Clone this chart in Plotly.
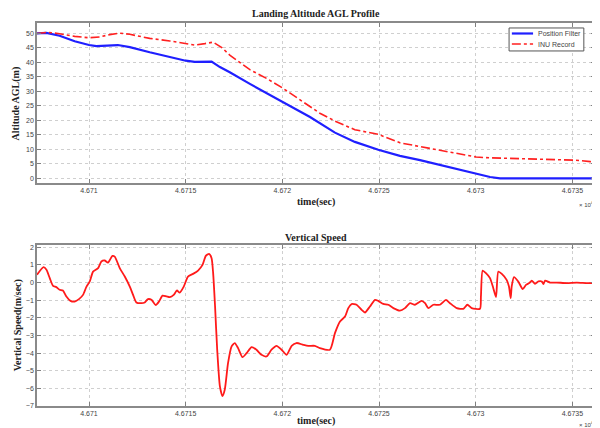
import plotly.graph_objects as go

# ---------------- Data ----------------
# Top: Landing Altitude AGL Profile (time in seconds, altitude in m)
pf_time = [46707.31, 46707.80, 46708.48, 46709.26, 46710.00, 46710.38, 46711.49, 46712.11,
           46713.14, 46714.18, 46715.00, 46715.47, 46716.34, 46716.77, 46717.28, 46718.32,
           46719.96, 46721.43, 46722.72, 46723.75, 46724.96, 46726.08, 46727.12, 46728.15,
           46729.19, 46730.05, 46730.74, 46731.26, 46732.29, 46736.17]
pf_alt = [50.0, 50.2, 49.2, 47.3, 46.0, 45.6, 46.0, 45.3,
          43.5, 41.8, 40.6, 40.2, 40.3, 38.4, 36.6, 32.6,
          26.5, 21.2, 15.8, 12.6, 9.9, 7.8, 6.3, 4.6,
          2.9, 1.5, 0.5, 0.05, 0.0, 0.0]

inu_time = [46707.31, 46707.86, 46708.48, 46709.26, 46710.00, 46710.55, 46711.07, 46711.59,
            46712.11, 46713.14, 46714.18, 46715.00, 46715.47, 46715.99, 46716.42, 46716.89,
            46717.28, 46718.32, 46719.18, 46719.96, 46720.91, 46721.94, 46722.72, 46723.75,
            46724.96, 46726.08, 46727.12, 46728.15, 46729.19, 46730.02, 46730.74, 46732.29,
            46733.85, 46735.15, 46735.93, 46736.17]
inu_alt = [50.0, 50.4, 49.9, 49.0, 48.5, 48.8, 49.6, 50.1,
           49.7, 48.3, 47.4, 46.4, 46.0, 46.5, 47.0, 45.0,
           42.5, 37.5, 34.5, 31.4, 27.1, 22.5, 19.8, 16.8,
           15.2, 12.3, 11.0, 9.8, 8.5, 7.4, 7.1, 6.8,
           6.5, 6.3, 5.8, 5.6]

# Bottom: Vertical Speed (m/sec)
vs_time = [46707.31, 46707.65, 46707.80, 46707.97, 46708.14, 46708.31, 46708.48, 46708.65,
           46708.83, 46709.04, 46709.26, 46709.48, 46709.69, 46709.87, 46710.04, 46710.21,
           46710.47, 46710.64, 46710.81, 46710.98, 46711.21, 46711.33, 46711.59, 46711.85,
           46712.11, 46712.28, 46712.45, 46712.71, 46712.88, 46713.05, 46713.23, 46713.45,
           46713.62, 46713.80, 46714.01, 46714.18, 46714.38, 46714.55, 46714.69, 46714.90,
           46715.12, 46715.38, 46715.64, 46715.87, 46716.04, 46716.21, 46716.34, 46716.42,
           46716.52, 46716.63, 46716.77, 46716.90, 46717.02, 46717.19, 46717.37, 46717.54,
           46717.71, 46717.94, 46718.15, 46718.41, 46718.66, 46718.92, 46719.18, 46719.44,
           46719.70, 46719.96, 46720.22, 46720.48, 46720.73, 46721.08, 46721.34, 46721.68,
           46721.94, 46722.46, 46722.72, 46722.98, 46723.24, 46723.41, 46723.58, 46723.84,
           46724.10, 46724.27, 46724.53, 46724.79, 46724.96, 46725.22, 46725.48, 46725.74,
           46726.08, 46726.34, 46726.60, 46726.86, 46727.20, 46727.38, 46727.55, 46727.81,
           46728.15, 46728.46, 46728.67, 46729.02, 46729.36, 46729.57, 46729.79, 46730.22,
           46730.27, 46730.36, 46730.53, 46730.74, 46730.91, 46731.05, 46731.17, 46731.35,
           46731.60, 46731.72, 46731.81, 46731.86, 46731.98, 46732.20, 46732.43, 46732.60,
           46732.77, 46732.90, 46733.07, 46733.24, 46733.42, 46733.50, 46733.59, 46733.85,
           46734.19, 46734.71, 46735.23, 46735.75, 46736.17]
vs_speed = [0.44, 0.87, 0.72, 0.25, -0.19, -0.26, -0.41, -0.45,
            -0.79, -1.04, -1.08, -0.94, -0.70, -0.23, 0.06, 0.62,
            0.82, 1.19, 1.25, 1.13, 1.51, 1.47, 0.82, 0.34,
            -0.23, -0.70, -1.13, -1.17, -1.13, -0.94, -0.98, -1.28,
            -1.08, -0.74, -0.79, -0.83, -0.70, -0.45, -0.57, -0.23,
            0.34, 0.49, 0.68, 1.00, 1.51, 1.63, 1.38, 0.53,
            -1.36, -3.81, -5.89, -6.44, -6.08, -4.57, -3.63, -3.43,
            -3.72, -4.23, -4.00, -3.66, -3.81, -4.10, -4.19, -3.81,
            -3.59, -3.81, -4.10, -3.59, -3.43, -3.53, -3.59, -3.59,
            -3.72, -3.81, -2.87, -2.21, -1.93, -1.45, -1.22, -1.26,
            -1.55, -1.70, -1.36, -0.98, -1.04, -1.21, -1.26, -1.45,
            -1.59, -1.45, -1.17, -1.26, -1.04, -1.17, -1.45, -1.26,
            -1.26, -0.98, -1.17, -1.45, -1.49, -1.26, -1.45, -1.49,
            -0.79, 0.68, 0.53, 0.25, -0.32, -0.83, 0.62, 0.49,
            0.15, -0.23, -0.88, -0.23, 0.31, 0.06, -0.37, -0.13,
            -0.03, 0.11, -0.07, 0.06, 0.06, -0.09, 0.11, 0.00,
            0.00, -0.03, 0.00, -0.03, -0.03]

tick_vals = [46710, 46715, 46720, 46725, 46730, 46735]
tick_text = ["4.671", "4.6715", "4.672", "4.6725", "4.673", "4.6735"]
alt_ticks = [0, 5, 10, 15, 20, 25, 30, 35, 40, 45, 50]
vs_ticks = [-7, -6, -5, -4, -3, -2, -1, 0, 1, 2]
series_names = ["Position Filter", "INU Record"]

BLUE = "#1f1fff"
RED = "#ff2020"

# ---------------- Figure ----------------
fig = go.Figure()
fig.add_trace(go.Scatter(x=pf_time, y=pf_alt, mode="lines", name=series_names[0],
                         line=dict(color=BLUE, width=2.2), xaxis="x", yaxis="y"))
fig.add_trace(go.Scatter(x=inu_time, y=inu_alt, mode="lines", name=series_names[1],
                         line=dict(color=RED, width=1.6, dash="dashdot"), xaxis="x", yaxis="y"))
fig.add_trace(go.Scatter(x=vs_time, y=vs_speed, mode="lines", name="Vertical Speed",
                         line=dict(color="#ff1a1a", width=1.8, shape="spline", smoothing=0.6),
                         xaxis="x2", yaxis="y2"))

tickfont = dict(family="Liberation Sans, Arial", size=7, color="#444444")
common_x = dict(range=[46707.31, 46736.17], tickvals=tick_vals, ticktext=tick_text,
                ticks="inside", ticklen=4, tickcolor="#808080", tickfont=tickfont,
                showgrid=True, gridcolor="#cfcfcf", griddash="dot", gridwidth=1,
                showline=True, linecolor="#8a8a8a", linewidth=1.5, mirror="ticks",
                zeroline=False, automargin=False)
common_y = dict(ticks="inside", ticklen=4, tickcolor="#808080", tickfont=tickfont,
                showgrid=True, gridcolor="#cfcfcf", griddash="dot", gridwidth=1,
                showline=True, linecolor="#8a8a8a", linewidth=1.5, mirror="ticks",
                zeroline=False, automargin=False)

# The page body has an 8px default margin, so the figure is sized/positioned to compensate.
fig.update_layout(
    width=592, height=420,
    margin=dict(l=29, r=5, t=15, b=22),
    paper_bgcolor="white", plot_bgcolor="white",
    xaxis=dict(domain=[0, 1], anchor="y", **common_x),
    yaxis=dict(domain=[0.582, 1], anchor="x", range=[-1.6, 53.6], tickvals=alt_ticks, **common_y),
    xaxis2=dict(domain=[0, 1], anchor="y2", **common_x),
    yaxis2=dict(domain=[0, 0.42], anchor="x2", range=[-7, 2.12], tickvals=vs_ticks, **common_y),
    showlegend=False,
)

# ---- compact MATLAB-style legend box (top-right of upper axes) ----
fig.add_shape(type="rect", xref="paper", yref="paper", x0=0.846, x1=0.980, y0=0.927, y1=0.987,
              line=dict(color="#555555", width=1), fillcolor="white", layer="above")
legend_rows = [(0.9726, BLUE, "solid", 2.2), (0.945, RED, "dashdot", 1.6)]
for name, (yy, col, dsh, w) in zip(series_names, legend_rows):
    fig.add_shape(type="line", xref="paper", yref="paper", x0=0.851, x1=0.889, y0=yy, y1=yy,
                  line=dict(color=col, width=w, dash=dsh), layer="above")
    fig.add_annotation(xref="paper", yref="paper", x=0.895, y=yy, text=name, showarrow=False,
                       xanchor="left", yanchor="middle",
                       font=dict(family="Liberation Sans, Arial", size=7, color="#444444"))

serif_bold = dict(family="Liberation Serif, Times New Roman", size=10, color="#222222")
ann = [
    dict(text="<b>Landing Altitude AGL Profile</b>", x=0.5, y=1.0235, font=serif_bold),
    dict(text="<b>Vertical Speed</b>", x=0.5, y=0.441, font=serif_bold),
    dict(text="<b>time(sec)</b>", x=0.5, y=0.532, font=serif_bold),
    dict(text="<b>time(sec)</b>", x=0.5, y=-0.040, font=serif_bold),
    dict(text="<b>Altitude AGL(m)</b>", x=-0.037, y=0.791, textangle=-90, font=serif_bold),
    dict(text="<b>Vertical Speed(m/sec)</b>", x=-0.034, y=0.211, textangle=-90, font=serif_bold),
    dict(text="× 10<sup>4</sup>", x=0.985, y=0.527,
         font=dict(family="Liberation Sans, Arial", size=6, color="#444444")),
    dict(text="× 10<sup>4</sup>", x=0.985, y=-0.046,
         font=dict(family="Liberation Sans, Arial", size=6, color="#444444")),
]
for a in ann:
    fig.add_annotation(xref="paper", yref="paper", showarrow=False,
                       xanchor="center", yanchor="middle", **a)

fig.write_html("out.html")
